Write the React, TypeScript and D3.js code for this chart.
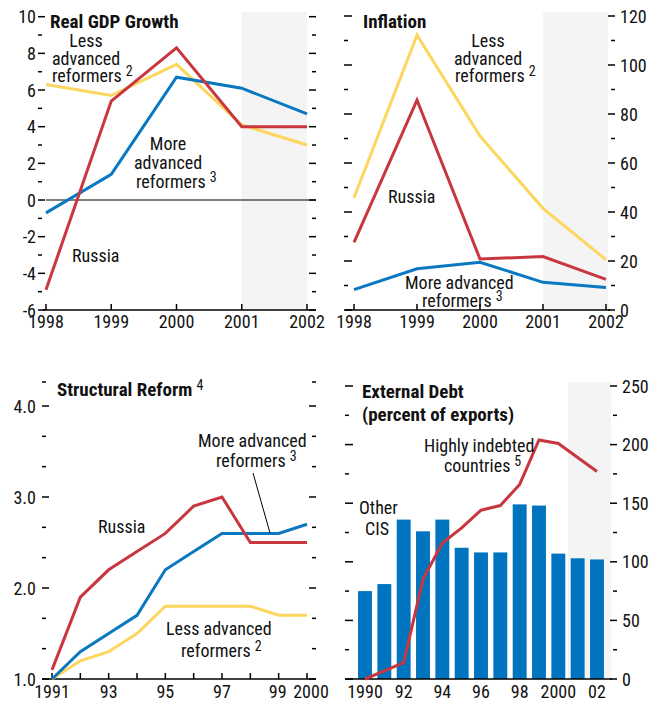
import React from "react";
import * as d3 from "d3";

// ---------- data ----------
const gdpYears = [1998, 1999, 2000, 2001, 2002];
const gdpRussia = [-4.9, 5.4, 8.3, 4.0, 4.0];
const gdpLess = [6.3, 5.7, 7.4, 4.1, 3.0];
const gdpMore = [-0.7, 1.4, 6.7, 6.1, 4.7];
const gdpTicks = [-6, -5, -4, -3, -2, -1, 0, 1, 2, 3, 4, 5, 6, 7, 8, 9, 10];
const gdpLabels = [-6, -4, -2, 0, 2, 4, 6, 8, 10];

const inflYears = [1998, 1999, 2000, 2001, 2002];
const inflRussia = [27.6, 85.7, 20.8, 21.8, 12.5];
const inflLess = [45.8, 112.2, 71.0, 41.5, 20.5];
const inflMore = [8.3, 16.8, 19.5, 11.3, 9.2];
const inflTicks = [0, 10, 20, 30, 40, 50, 60, 70, 80, 90, 100, 110, 120];
const inflLabels = [0, 20, 40, 60, 80, 100, 120];

const reformYears = [1991, 1992, 1993, 1994, 1995, 1996, 1997, 1998, 1999, 2000];
const reformRussia = [1.1, 1.9, 2.2, 2.4, 2.6, 2.9, 3.0, 2.5, 2.5, 2.5];
const reformMore = [1.0, 1.3, 1.5, 1.7, 2.2, 2.4, 2.6, 2.6, 2.6, 2.7];
const reformLess = [1.0, 1.2, 1.3, 1.5, 1.8, 1.8, 1.8, 1.8, 1.7, 1.7];
const reformTicks = [1, 4 / 3, 5 / 3, 2, 7 / 3, 8 / 3, 3, 10 / 3, 11 / 3, 4];
const reformLabels = [1, 2, 3, 4];
const reformXLabels = [
  { year: 1991, text: "1991", shift: 0 },
  { year: 1993, text: "93", shift: 0 },
  { year: 1995, text: "95", shift: 0 },
  { year: 1997, text: "97", shift: 0 },
  { year: 1999, text: "99", shift: -1 },
  { year: 2000, text: "2000", shift: 4 },
];

const debtYears = [1990, 1991, 1992, 1993, 1994, 1995, 1996, 1997, 1998, 1999, 2000, 2001, 2002];
const debtOtherCIS = [75, 81, 136, 126, 136, 112, 108, 108, 149, 148, 107, 103, 102];
const debtHighly = [0, 7, 14, 85, 116, 129, 144, 148, 166, 204, 201, 189, 177];
const debtTicks = [0, 25, 50, 75, 100, 125, 150, 175, 200, 225, 250];
const debtLabels = [0, 50, 100, 150, 200, 250];
const debtXLabels = [
  { year: 1990, text: "1990" },
  { year: 1992, text: "92" },
  { year: 1994, text: "94" },
  { year: 1996, text: "96" },
  { year: 1998, text: "98" },
  { year: 2000, text: "2000" },
  { year: 2002, text: "02" },
];

// ---------- style ----------
const RED = "#c8363f";
const BLUE = "#0a78c0";
const YELLOW = "#fcd65e";
const BAR = "#0074be";
const SHADE = "#f4f4f4";
const FONT = "'Liberation Sans Narrow', 'Arial Narrow', 'Roboto Condensed', 'DejaVu Sans Condensed', sans-serif";
const FS = 18;

function LinePath({ xs, ys, x, y, color }: any) {
  const gen = d3
    .line<number>()
    .x((_, i) => x(xs[i]))
    .y((v) => y(v));
  return <path d={gen(ys) || ""} fill="none" stroke={color} strokeWidth={3} strokeLinejoin="miter" />;
}

function VTicks({ y, values, majors, x0, side, majorLen = 7, minorLen = 4 }: any) {
  return (
    <g stroke="#000" strokeWidth={1.5}>
      {values.map((v: number, i: number) => {
        const isMajor = majors.some((m: number) => Math.abs(m - v) < 1e-6);
        const len = isMajor ? majorLen : minorLen;
        const yy = y(v);
        const xa = side === "left" ? x0 : x0 - len;
        const xb = side === "left" ? x0 + len : x0;
        return <line key={i} x1={xa} x2={xb} y1={yy} y2={yy} />;
      })}
    </g>
  );
}

function Txt({ x, y, children, anchor = "start", bold = false, size = FS, sup }: any) {
  return (
    <text x={x} y={y} textAnchor={anchor} fontFamily={FONT} fontSize={size} fontWeight={bold ? "bold" : "normal"} fill="#111">
      {children}
      {sup ? (
        <tspan dx={4} dy={-6} fontSize={14} fontWeight="normal">
          {sup}
        </tspan>
      ) : null}
    </text>
  );
}

function GdpPanel() {
  const x = d3.scaleLinear().domain([1998, 2002]).range([46, 307]);
  const y = d3.scaleLinear().domain([-6, 10]).range([310, 16.7]);
  return (
    <g>
      <rect x={x(2001)} y={12} width={x(2002) - x(2001)} height={y(-6) - 12} fill={SHADE} />
      <line x1={46} x2={316} y1={y(0)} y2={y(0)} stroke="#000" strokeWidth={1} />
      <VTicks y={y} values={gdpTicks} majors={gdpLabels} x0={38} side="left" />
      <VTicks y={y} values={gdpTicks} majors={gdpLabels} x0={316} side="right" />
      {gdpLabels.map((v) => (
        <Txt key={v} x={36} y={y(v) + 6.5} anchor="end">
          {v}
        </Txt>
      ))}
      <line x1={43} x2={316} y1={y(-6)} y2={y(-6)} stroke="#000" strokeWidth={1.5} />
      {gdpYears.map((yr) => (
        <g key={yr}>
          <line x1={x(yr)} x2={x(yr)} y1={y(-6)} y2={y(-6) - 6} stroke="#000" strokeWidth={1.5} />
          <Txt x={x(yr)} y={328} anchor="middle">
            {yr}
          </Txt>
        </g>
      ))}
      <LinePath xs={gdpYears} ys={gdpLess} x={x} y={y} color={YELLOW} />
      <LinePath xs={gdpYears} ys={gdpMore} x={x} y={y} color={BLUE} />
      <LinePath xs={gdpYears} ys={gdpRussia} x={x} y={y} color={RED} />
      <Txt x={50} y={28} bold size={19}>Real GDP Growth</Txt>
      <Txt x={86} y={47} anchor="middle">Less</Txt>
      <Txt x={86} y={65} anchor="middle">advanced</Txt>
      <Txt x={52} y={82} sup="2">reformers</Txt>
      <Txt x={168} y={150} anchor="middle">More</Txt>
      <Txt x={168} y={169} anchor="middle">advanced</Txt>
      <Txt x={136} y={188} sup="3">reformers</Txt>
      <Txt x={72} y={262}>Russia</Txt>
    </g>
  );
}

function InflPanel() {
  const x = d3.scaleLinear().domain([1998, 2002]).range([354, 606]);
  const y = d3.scaleLinear().domain([0, 120]).range([310, 16]);
  return (
    <g>
      <rect x={x(2001)} y={12} width={608 - x(2001)} height={y(0) - 12} fill={SHADE} />
      <VTicks y={y} values={inflTicks} majors={inflLabels} x0={344} side="left" majorLen={8} />
      <VTicks y={y} values={inflTicks} majors={inflLabels} x0={615} side="right" />
      {inflLabels.map((v) => (
        <Txt key={v} x={620} y={y(v) + 6.5}>
          {v}
        </Txt>
      ))}
      <line x1={345} x2={610} y1={y(0)} y2={y(0)} stroke="#000" strokeWidth={1.5} />
      {inflYears.map((yr) => (
        <g key={yr}>
          <line x1={x(yr)} x2={x(yr)} y1={y(0)} y2={y(0) - 6} stroke="#000" strokeWidth={1.5} />
          <Txt x={x(yr)} y={328} anchor="middle">
            {yr}
          </Txt>
        </g>
      ))}
      <LinePath xs={inflYears} ys={inflLess} x={x} y={y} color={YELLOW} />
      <LinePath xs={inflYears} ys={inflMore} x={x} y={y} color={BLUE} />
      <LinePath xs={inflYears} ys={inflRussia} x={x} y={y} color={RED} />
      <Txt x={363} y={28} bold size={19}>Inflation</Txt>
      <Txt x={488} y={47} anchor="middle">Less</Txt>
      <Txt x={488} y={65} anchor="middle">advanced</Txt>
      <Txt x={455} y={82} sup="2">reformers</Txt>
      <Txt x={388} y={203}>Russia</Txt>
      <Txt x={405} y={289}>More advanced</Txt>
      <Txt x={422} y={307} sup="3">reformers</Txt>
    </g>
  );
}

function ReformPanel() {
  const x = d3.scaleLinear().domain([1991, 2000]).range([52, 307]);
  const y = d3.scaleLinear().domain([1, 4]).range([679, 406]);
  const topTick = y.invert(382);
  const rightVals = [...reformTicks, topTick];
  return (
    <g>
      <VTicks y={y} values={rightVals} majors={reformLabels} x0={42} side="left" />
      <VTicks y={y} values={rightVals} majors={reformLabels} x0={316} side="right" />
      {reformLabels.map((v) => (
        <Txt key={v} x={36} y={y(v) + 6.5} anchor="end">
          {d3.format(".1f")(v)}
        </Txt>
      ))}
      <line x1={42} x2={316} y1={y(1)} y2={y(1)} stroke="#000" strokeWidth={1.5} />
      {reformYears.map((yr) => (
        <line key={yr} x1={x(yr)} x2={x(yr)} y1={y(1)} y2={y(1) - 6} stroke="#000" strokeWidth={1.5} />
      ))}
      {reformXLabels.map((d) => (
        <Txt key={d.year} x={x(d.year) + d.shift} y={698} anchor="middle">
          {d.text}
        </Txt>
      ))}
      <LinePath xs={reformYears} ys={reformLess} x={x} y={y} color={YELLOW} />
      <LinePath xs={reformYears} ys={reformMore} x={x} y={y} color={BLUE} />
      <LinePath xs={reformYears} ys={reformRussia} x={x} y={y} color={RED} />
      <Txt x={57} y={396} bold size={19} sup="4">Structural Reform</Txt>
      <Txt x={198} y={447}>More advanced</Txt>
      <Txt x={216} y={467} sup="3">reformers</Txt>
      <line x1={253} y1={473} x2={270} y2={533} stroke="#000" strokeWidth={1} />
      <Txt x={98} y={533}>Russia</Txt>
      <Txt x={166} y={635}>Less advanced</Txt>
      <Txt x={181} y={657} sup="2">reformers</Txt>
    </g>
  );
}

function DebtPanel() {
  const x = d3.scalePoint<number>().domain(debtYears).range([365, 597]);
  const bw = x.step() * 0.72;
  const y = d3.scaleLinear().domain([0, 250]).range([679, 386]);
  return (
    <g>
      <rect x={568} y={382} width={611 - 568} height={y(0) - 382} fill={SHADE} />
      <VTicks y={y} values={debtTicks} majors={debtLabels} x0={345} side="left" majorLen={8} />
      <VTicks y={y} values={debtTicks} majors={debtLabels} x0={617} side="right" />
      {debtLabels.map((v) => (
        <Txt key={v} x={622} y={y(v) + 6.5}>
          {v}
        </Txt>
      ))}
      {debtYears.map((yr, i) => (
        <rect key={yr} x={(x(yr) as number) - bw / 2} y={y(debtOtherCIS[i])} width={bw} height={y(0) - y(debtOtherCIS[i])} fill={BAR} />
      ))}
      <line x1={345} x2={612} y1={y(0)} y2={y(0)} stroke="#000" strokeWidth={1.5} />
      {debtXLabels.map((d) => (
        <Txt key={d.year} x={x(d.year)} y={698} anchor="middle">
          {d.text}
        </Txt>
      ))}
      <LinePath xs={debtYears} ys={debtHighly} x={x} y={y} color={RED} />
      <Txt x={362} y={398} bold size={19}>External Debt</Txt>
      <Txt x={362} y={421} bold size={19}>(percent of exports)</Txt>
      <Txt x={424} y={452}>Highly indebted</Txt>
      <Txt x={444} y={472} sup="5">countries</Txt>
      <Txt x={359} y={514}>Other</Txt>
      <Txt x={365} y={535}>CIS</Txt>
    </g>
  );
}

export default function App() {
  return (
    <svg width={658} height={702} style={{ position: "absolute", left: 0, top: 0, background: "#fff" }}>
      <rect width={658} height={702} fill="#fff" />
      <GdpPanel />
      <InflPanel />
      <ReformPanel />
      <DebtPanel />
    </svg>
  );
}
